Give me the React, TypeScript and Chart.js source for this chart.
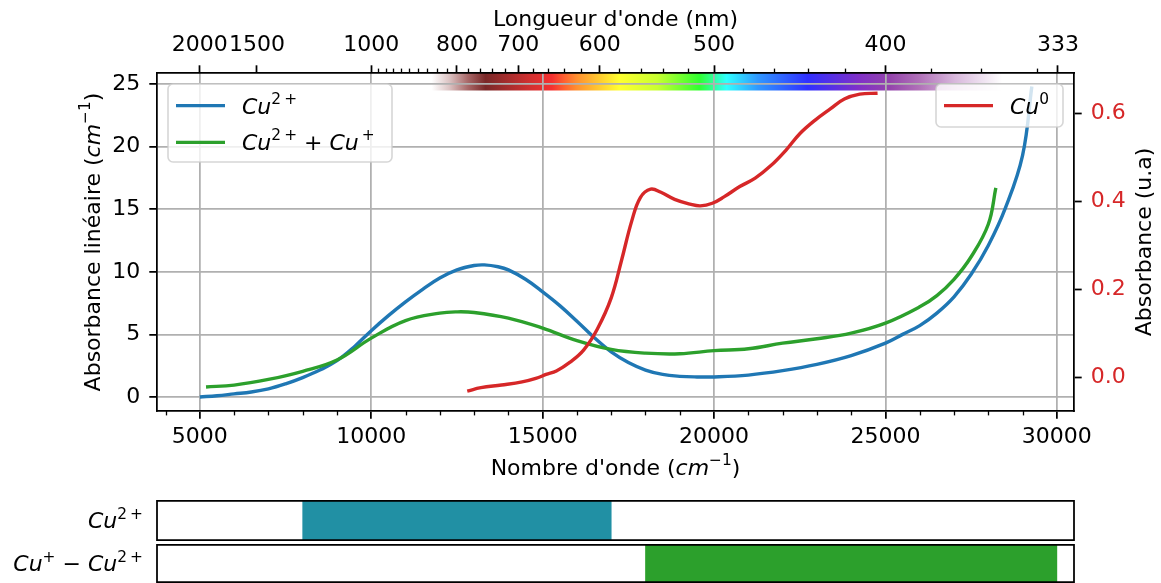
import React, { useEffect, useRef } from 'react';
import { Chart, registerables } from 'chart.js';
Chart.register(...registerables);

// ---------- data ----------
const cu2Wn = [5000, 5500, 6000, 6500, 7000, 7500, 8000, 8500, 9000, 9500, 10000, 10500, 11000, 11500, 12000, 12500, 13000, 13300, 13700, 14000, 14500, 15000, 15500, 16000, 16500, 17000, 17500, 18000, 18500, 19000, 19500, 20000, 21000, 22000, 23000, 24000, 25000, 25500, 26000, 26500, 27000, 27500, 28000, 28500, 29000, 29270];
const cu2Abs = [0.0, 0.1, 0.25, 0.4, 0.65, 1.05, 1.55, 2.15, 2.9, 4.0, 5.3, 6.5, 7.6, 8.6, 9.5, 10.15, 10.5, 10.55, 10.4, 10.15, 9.4, 8.4, 7.3, 6.05, 4.75, 3.6, 2.75, 2.15, 1.8, 1.65, 1.6, 1.6, 1.75, 2.1, 2.6, 3.3, 4.3, 5.0, 5.7, 6.7, 8.0, 9.8, 12.1, 15.1, 19.3, 24.8];

const mixWn = [5180, 6000, 7000, 8000, 9000, 10000, 11000, 12000, 12500, 13000, 14000, 15000, 16000, 17000, 18000, 19000, 20000, 21000, 22000, 23000, 24000, 25000, 26000, 26500, 27000, 27500, 28000, 28220];
const mixAbs = [0.8, 0.95, 1.4, 2.05, 2.95, 4.7, 6.1, 6.7, 6.8, 6.75, 6.3, 5.5, 4.5, 3.8, 3.5, 3.45, 3.7, 3.85, 4.3, 4.65, 5.1, 5.9, 7.2, 8.1, 9.4, 11.2, 13.8, 16.7];

const cu0Wn = [12800, 13200, 13800, 14400, 14800, 15100, 15400, 15800, 16200, 16600, 17000, 17300, 17600, 17850, 18150, 18450, 18850, 19300, 19600, 19950, 20300, 20750, 21200, 21650, 22100, 22500, 22950, 23400, 23800, 24250, 24770];
const cu0Abs = [-0.032, -0.024, -0.018, -0.011, -0.003, 0.006, 0.014, 0.034, 0.062, 0.11, 0.18, 0.265, 0.355, 0.408, 0.427, 0.42, 0.404, 0.393, 0.389, 0.395, 0.41, 0.433, 0.452, 0.48, 0.516, 0.553, 0.584, 0.61, 0.632, 0.643, 0.645];

const xMajorTicks = [5000, 10000, 15000, 20000, 25000, 30000];
const xMinorTicks = [4000, 6000, 7000, 8000, 9000, 11000, 12000, 13000, 14000, 16000, 17000, 18000, 19000, 21000, 22000, 23000, 24000, 26000, 27000, 28000, 29000];
const yLeftTicks = [0, 5, 10, 15, 20, 25];
const yRightTicks = [0, 0.2, 0.4, 0.6];
const topTickNm = [2000, 1500, 1000, 800, 700, 600, 500, 400, 333];
const topMinorNm = [340, 360, 380, 420, 440, 460, 480, 520, 540, 560, 580, 620, 640, 660, 680, 720, 740, 760, 780, 820, 840, 860, 880, 900, 920, 940, 960, 980];

const bandCu2 = [8000, 17000];
const bandCuMix = [18000, 30000];

// visible spectrum colour stops (wavelength nm, colour)
const spectrumNm = [850, 815, 780, 750, 720, 683, 655, 640, 625, 580, 545, 511, 491, 470, 440, 413, 398, 385, 370, 352];
const spectrumCol = ['#ffffff', '#dcc4c4', '#a86868', '#7a2828', '#a02c2c', '#d23030', '#f53030', '#ff6030', '#ff9030', '#ffff30', '#c8ff30', '#30ff30', '#30ffff', '#3098ff', '#3030ff', '#8030c8', '#9444ac', '#b070b8', '#d8b8dc', '#ffffff'];

// ---------- style ----------
const W = 1161;
const MAIN_H = 492;
const FONT = '"DejaVu Sans", sans-serif';
const FS = 22;
const SPINE = 1.76;
const BLUE = '#1f77b4';
const GREEN = '#2ca02c';
const RED = '#d62728';
const X_MIN = 3750;
const X_MAX = 30500;

type Seg = { t: string; it?: boolean; sup?: boolean };

function segFont(s: Seg, size: number) {
  const sz = s.sup ? size * 0.7 : size;
  return `${s.it ? 'italic ' : ''}${sz}px ${FONT}`;
}
function richWidth(ctx: CanvasRenderingContext2D, segs: Seg[], size: number) {
  let w = 0;
  for (const s of segs) {
    ctx.font = segFont(s, size);
    w += ctx.measureText(s.t).width;
  }
  return w;
}
function drawRich(ctx: CanvasRenderingContext2D, segs: Seg[], x: number, y: number, size: number, align: 'left' | 'center' | 'right', rot = 0, color = '#000') {
  ctx.save();
  ctx.translate(x, y);
  ctx.rotate(rot);
  const w = richWidth(ctx, segs, size);
  let cx = align === 'left' ? 0 : align === 'center' ? -w / 2 : -w;
  ctx.textAlign = 'left';
  ctx.textBaseline = 'alphabetic';
  ctx.fillStyle = color;
  const base = size * 0.36;
  for (const s of segs) {
    ctx.font = segFont(s, size);
    ctx.fillText(s.t, cx, s.sup ? base - size * 0.45 : base);
    cx += ctx.measureText(s.t).width;
  }
  ctx.restore();
}

const legendLeft = [
  { color: BLUE, segs: [{ t: 'Cu', it: true }, { t: '2\u2009+', sup: true }] as Seg[] },
  { color: GREEN, segs: [{ t: 'Cu', it: true }, { t: '2\u2009+', sup: true }, { t: ' + ' }, { t: 'Cu', it: true }, { t: '\u2009+', sup: true }] as Seg[] },
];
const legendRight = [{ color: RED, segs: [{ t: 'Cu', it: true }, { t: '0', sup: true }] as Seg[] }];

function drawLegend(ctx: CanvasRenderingContext2D, bx: number, by: number, bw: number, bh: number, entries: { color: string; segs: Seg[] }[], firstY: number, gap: number) {
  ctx.save();
  ctx.beginPath();
  ctx.roundRect(bx, by, bw, bh, 5);
  ctx.fillStyle = 'rgba(255,255,255,0.8)';
  ctx.fill();
  ctx.strokeStyle = 'rgba(204,204,204,0.8)';
  ctx.lineWidth = 1.6;
  ctx.stroke();
  entries.forEach((e, i) => {
    const y = firstY + i * gap;
    ctx.beginPath();
    ctx.moveTo(bx + 8, y);
    ctx.lineTo(bx + 57, y);
    ctx.strokeStyle = e.color;
    ctx.lineWidth = 3.3;
    ctx.stroke();
    drawRich(ctx, e.segs, bx + 74, y, FS, 'left');
  });
  ctx.restore();
}

const mainPlugin = {
  id: 'mainDecor',
  beforeDraw(chart: any) {
    const ctx: CanvasRenderingContext2D = chart.ctx;
    const xs = chart.scales.x;
    const area = chart.chartArea;
    const px = spectrumNm.map((nm) => xs.getPixelForValue(1e7 / nm));
    const x0 = px[0];
    const x1 = px[px.length - 1];
    const g = ctx.createLinearGradient(x0, 0, x1, 0);
    px.forEach((p, i) => g.addColorStop((p - x0) / (x1 - x0), spectrumCol[i]));
    ctx.save();
    ctx.fillStyle = g;
    ctx.fillRect(x0, area.top, x1 - x0, 17.5);
    ctx.restore();
  },
  afterDatasetsDraw(chart: any) {
    const ctx: CanvasRenderingContext2D = chart.ctx;
    const a = chart.chartArea;
    drawLegend(ctx, a.left + 11, a.top + 11, 224, 78, legendLeft, a.top + 32.7, 36.6);
    drawLegend(ctx, a.right - 11 - 127, a.top + 11, 127, 43, legendRight, a.top + 32.7, 36.6);
  },
  afterDraw(chart: any) {
    const ctx: CanvasRenderingContext2D = chart.ctx;
    const a = chart.chartArea;
    const xs = chart.scales.x;
    ctx.save();
    ctx.strokeStyle = '#000';
    ctx.lineWidth = 1.32;
    for (const v of xMinorTicks) {
      const x = Math.round(xs.getPixelForValue(v)) + 0.5;
      ctx.beginPath();
      ctx.moveTo(x, a.bottom);
      ctx.lineTo(x, a.bottom + 4.4);
      ctx.stroke();
    }
    for (const nm of topMinorNm) {
      const x = Math.round(xs.getPixelForValue(1e7 / nm)) + 0.5;
      ctx.beginPath();
      ctx.moveTo(x, a.top);
      ctx.lineTo(x, a.top - 4.4);
      ctx.stroke();
    }
    ctx.restore();
    const cx = (a.left + a.right) / 2;
    const cy = (a.top + a.bottom) / 2;
    drawRich(ctx, [{ t: "Nombre d'onde (" }, { t: 'cm', it: true }, { t: '\u22121', sup: true }, { t: ')' }], cx, 467, FS, 'center');
    drawRich(ctx, [{ t: "Longueur d'onde (nm)" }], cx, 18, FS, 'center');
    drawRich(ctx, [{ t: 'Absorbance linéaire (' }, { t: 'cm', it: true }, { t: '\u22121', sup: true }, { t: ')' }], 92, cy, FS, 'center', -Math.PI / 2);
    drawRich(ctx, [{ t: 'Absorbance (u.a)' }], 1143, cy, FS, 'center', -Math.PI / 2);
  },
};

function MainChart() {
  const ref = useRef<HTMLCanvasElement>(null);
  useEffect(() => {
    const tickFont = { family: FONT, size: FS };
    const gridBase = { tickLength: 7.7, tickColor: '#000', tickWidth: SPINE };
    const lineStyle = { borderWidth: 3.4, pointRadius: 0, tension: 0.4, fill: false, xAxisID: 'x' };
    const chart = new Chart(ref.current!, {
      type: 'line',
      data: {
        datasets: [
          { ...lineStyle, label: 'Cu0', data: cu0Wn.map((x, i) => ({ x, y: cu0Abs[i] })), borderColor: RED, yAxisID: 'y2', order: 0 },
          { ...lineStyle, label: 'Cu2+ + Cu+', data: mixWn.map((x, i) => ({ x, y: mixAbs[i] })), borderColor: GREEN, yAxisID: 'y', order: 1 },
          { ...lineStyle, label: 'Cu2+', data: cu2Wn.map((x, i) => ({ x, y: cu2Abs[i] })), borderColor: BLUE, yAxisID: 'y', order: 2 },
        ],
      },
      options: {
        responsive: false,
        animation: false,
        devicePixelRatio: 1,
        layout: { padding: 0 },
        plugins: { legend: { display: false }, tooltip: { enabled: false } },
        scales: {
          x: {
            type: 'linear', position: 'bottom', min: X_MIN, max: X_MAX,
            afterBuildTicks: (s: any) => { s.ticks = xMajorTicks.map((v) => ({ value: v })); },
            afterFit: (s: any) => { s.height = MAIN_H - 411; },
            ticks: { font: tickFont, color: '#000', padding: 5, maxRotation: 0, autoSkip: false, callback: (v: any) => String(v) },
            grid: { ...gridBase, color: '#b0b0b0', lineWidth: SPINE },
            border: { color: '#000', width: SPINE },
          },
          x2: {
            type: 'linear', position: 'top', min: X_MIN, max: X_MAX,
            afterBuildTicks: (s: any) => { s.ticks = topTickNm.map((nm) => ({ value: 1e7 / nm })); },
            afterFit: (s: any) => { s.height = 73; },
            ticks: { font: tickFont, color: '#000', padding: 7, maxRotation: 0, autoSkip: false, callback: (_v: any, i: number) => String(topTickNm[i]) },
            grid: { ...gridBase, drawOnChartArea: false },
            border: { color: '#000', width: SPINE },
          },
          y: {
            type: 'linear', position: 'left', min: -1.12, max: 25.88,
            afterBuildTicks: (s: any) => { s.ticks = yLeftTicks.map((v) => ({ value: v })); },
            afterFit: (s: any) => { s.width = 157; },
            ticks: { font: tickFont, color: '#000', padding: 9, callback: (v: any) => String(v) },
            grid: { ...gridBase, color: '#b0b0b0', lineWidth: SPINE },
            border: { color: '#000', width: SPINE },
          },
          y2: {
            type: 'linear', position: 'right', min: -0.077, max: 0.691,
            afterBuildTicks: (s: any) => { s.ticks = yRightTicks.map((v) => ({ value: v })); },
            afterFit: (s: any) => { s.width = W - 1074; },
            ticks: { font: tickFont, color: RED, padding: 9, callback: (v: any) => Number(v).toFixed(1) },
            grid: { ...gridBase, drawOnChartArea: false },
            border: { color: '#000', width: SPINE },
          },
        },
      } as any,
      plugins: [mainPlugin],
    });
    return () => chart.destroy();
  }, []);
  return <canvas ref={ref} width={W} height={MAIN_H} style={{ position: 'absolute', left: 0, top: 0 }} />;
}

function BandChart(props: { band: number[]; color: string; label: Seg[]; top: number; height: number }) {
  const ref = useRef<HTMLCanvasElement>(null);
  useEffect(() => {
    const plugin = {
      id: 'bandDecor',
      afterDraw(chart: any) {
        const ctx: CanvasRenderingContext2D = chart.ctx;
        const a = chart.chartArea;
        ctx.save();
        ctx.strokeStyle = '#000';
        ctx.lineWidth = SPINE;
        ctx.strokeRect(a.left, a.top + SPINE / 2, a.right - a.left, a.bottom - a.top - SPINE);
        ctx.restore();
        drawRich(ctx, props.label, a.left - 14, (a.top + a.bottom) / 2, FS, 'right');
      },
    };
    const chart = new Chart(ref.current!, {
      type: 'bar',
      data: {
        labels: [''],
        datasets: [{ data: [props.band as any], backgroundColor: props.color, borderWidth: 0, barPercentage: 1, categoryPercentage: 1 }],
      },
      options: {
        indexAxis: 'y',
        responsive: false,
        animation: false,
        devicePixelRatio: 1,
        layout: { padding: { left: 157, right: W - 1074, top: 0, bottom: 0 } },
        plugins: { legend: { display: false }, tooltip: { enabled: false } },
        scales: {
          x: { type: 'linear', min: X_MIN, max: X_MAX, display: false },
          y: { type: 'category', display: false },
        },
      } as any,
      plugins: [plugin],
    });
    return () => chart.destroy();
  }, []);
  return <canvas ref={ref} width={W} height={props.height} style={{ position: 'absolute', left: 0, top: props.top }} />;
}

export default function App() {
  return (
    <div style={{ position: 'absolute', left: 0, top: 0, width: W, height: 583, overflow: 'hidden', background: '#fff' }}>
      <MainChart />
      <BandChart band={bandCu2} color="#2190a4" label={[{ t: 'Cu', it: true }, { t: '2\u2009+', sup: true }]} top={500} height={41} />
      <BandChart band={bandCuMix} color={GREEN} label={[{ t: 'Cu', it: true }, { t: '+', sup: true }, { t: ' \u2212 ' }, { t: 'Cu', it: true }, { t: '2\u2009+', sup: true }]} top={544} height={39} />
    </div>
  );
}
